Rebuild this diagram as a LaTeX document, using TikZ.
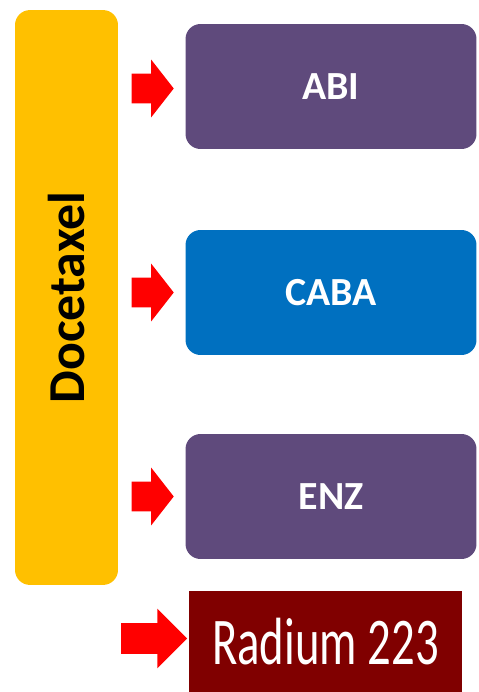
\documentclass[tikz,border=0pt]{standalone}
\usepackage{fontspec}
\setmainfont{Carlito}
\usepackage{tikz}
\usetikzlibrary{shapes,arrows,positioning,calc,arrows.meta}

\definecolor{docyellow}{HTML}{FFC000}
\definecolor{drugpurple}{HTML}{5F4A7C}
\definecolor{drugblue}{HTML}{0070C0}
\definecolor{radred}{HTML}{800000}

\begin{document}
\begin{tikzpicture}[x=0.02cm, y=-0.02cm, >=latex,
    drug/.style={rounded corners=0.3cm, minimum width=5.82cm, minimum height=2.5cm,
        text=white, font=\fontsize{22.7}{26}\selectfont\bfseries},
    redarrow/.style={single arrow, fill=red, inner xsep=0pt, inner ysep=0.29cm,
        single arrow head extend=0.28cm, single arrow tip angle=104, minimum height=0.84cm}]
    \useasboundingbox (0,0) rectangle (479,692);

    \node [fill=docyellow, rounded corners=0.3cm, minimum width=2.06cm, minimum height=11.5cm] (doce) at (66.5,297.5) {};
    \node [rotate=90, font=\fontsize{29.5}{32}\selectfont\bfseries] at (doce.center) {Docetaxel};

    \node [drug, fill=drugpurple] (abi) at (331,86.5) {ABI};
    \node [drug, fill=drugblue] (caba) at (331,292.5) {CABA};
    \node [drug, fill=drugpurple] (enz) at (331,496.5) {ENZ};

    \node [fill=radred, minimum width=5.46cm, minimum height=2.02cm, text=white] (radium) at (325.5,641.5)
        {\scalebox{0.70}[1]{\fontsize{38}{40}\selectfont Radium 223}};

    % red block arrows pointing to each line
    \node [redarrow, left=0.22cm of abi, yshift=-0.04cm] (toabi) {};
    \node [redarrow, left=0.22cm of caba] (tocaba) {};
    \node [redarrow, left=0.22cm of enz] (toenz) {};
    \node [redarrow, left=0.02cm of radium, yshift=0.06cm, inner ysep=0.3cm, single arrow head extend=0.29cm,
        single arrow tip angle=90, minimum height=1.32cm] (torad) {};
\end{tikzpicture}
\end{document}
